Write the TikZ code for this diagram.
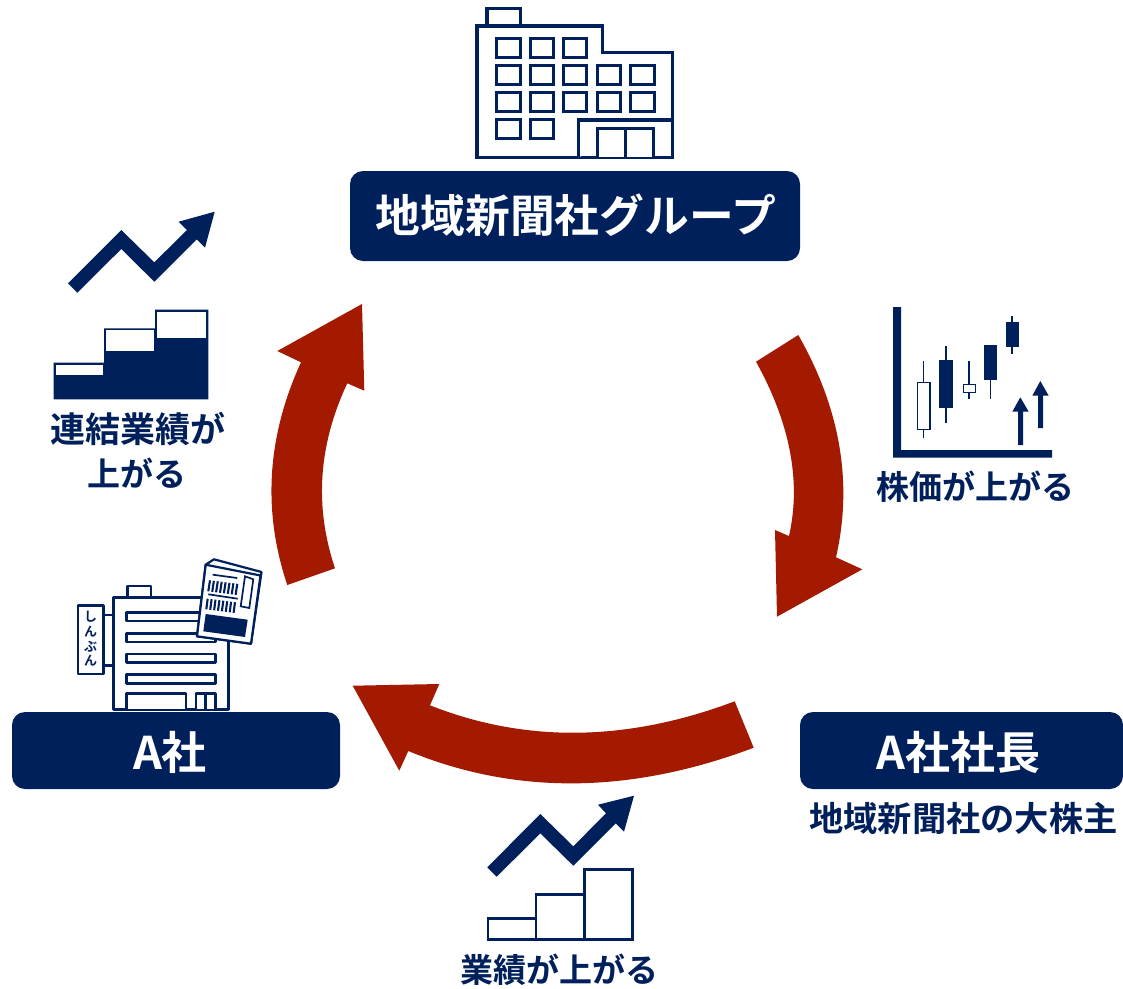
\documentclass[tikz,border=0pt]{standalone}
\usepackage{fontspec}
\setmainfont{Noto Sans CJK JP}[BoldFont={Noto Sans CJK JP Bold}]
\definecolor{navy}{HTML}{00205B}
\definecolor{redarrow}{HTML}{A31A00}
\tikzset{
  titlebox/.style={fill=navy,draw=none,rounded corners=13pt},
  titletext/.style={text=white,font=\bfseries\fontsize{#1}{#1}\selectfont,inner sep=0pt},
  labeltext/.style={text=navy,font=\bfseries\fontsize{#1}{#1}\selectfont,inner sep=0pt},
  signtext/.style={text=navy,font=\bfseries\fontsize{13}{13}\selectfont,inner sep=0pt},
  cycle arrow/.style={fill=redarrow,draw=none},
  solid navy/.style={fill=navy,draw=none},
  window/.style={draw=navy,line width=3pt,fill=white},
  bldg/.style={draw=navy,line width=3.3pt,fill=white,line join=miter},
  thin bldg/.style={draw=navy,line width=2.6pt,fill=white,line join=round},
  stripe/.style={draw=navy,line width=2.1pt},
  bar/.style={draw=navy,line width=2.7pt,fill=white},
  wick/.style={draw=navy,line width=1.3pt},
}
\begin{document}
\begin{tikzpicture}[x=1pt,y=-1pt]
\useasboundingbox (0,0) rectangle (1123,988);
\fill[white] (0,0) rectangle (1123,988);

% cycle arrows
\fill[cycle arrow] (734.7,701.3) .. controls (627.3,741.8) and (525.8,743.2) .. (430,705.3)
  -- (439.3,684) -- (352.7,685.7) -- (399.3,770.7) -- (408.3,751)
  .. controls (515.4,795.2) and (630.6,794.1) .. (753.7,747.7) -- cycle;
\fill[cycle arrow] (756,361.7) .. controls (790.3,423.6) and (801.3,481.7) .. (789,536)
  -- (775,530) -- (777,616.7) -- (862.3,569.3) -- (836,557.3)
  .. controls (853,483) and (840.4,408.9) .. (798.3,335) -- cycle;
\fill[cycle arrow] (335,568.3) .. controls (314.2,506.6) and (318.3,445) .. (347.3,383.3)
  -- (364.3,390.7) -- (362,304) -- (277.3,351) -- (301,362.3)
  .. controls (266.9,436.5) and (262.3,510.8) .. (287.3,585) -- cycle;

% title boxes
\fill[titlebox] (350,171) rectangle (800,261);
\fill[titlebox] (12,712) rectangle (340,789);
\fill[titlebox] (800,712) rectangle (1123,789);
\node[titletext=44.8] (group) at (576,215) {地域新聞社グループ};
\node[titletext=45] (asha) at (170,752) {A社};
\node[titletext=45] (president) at (958.5,752) {A社社長};

% labels
\node[labeltext=34.3] (holder) at (963.5,818) {地域新聞社の大株主};
\node[labeltext=33] (stock) at (975,487) {株価が上がる};
\node[labeltext=33] (sales) at (559,970) {業績が上がる};
\node[labeltext=35] (cons1) at (137.5,429) {連結業績が};
\node[labeltext=33] (cons2) at (137,473) {上がる};

% head office building
\draw[bldg] (487,26) -- (487,8.3) -- (520.7,8.3) -- (520.7,26);
\draw[bldg] (477,26) -- (602.3,26) -- (602.3,52.7) -- (672.7,52.7) -- (672.7,157.3) -- (477,157.3) -- cycle;
\foreach \wx/\wy in {496.7/38.7,530/38.7,563.3/38.7,
  496.7/65.7,530/65.7,563.3/65.7,597.3/65.7,630.7/65.7,
  496.7/92.7,530/92.7,563.3/92.7,597.3/92.7,630.7/92.7,
  496.7/119.3,530/119.3}
  \draw[window] (\wx,\wy) rectangle ++(23.3,18.7);
\draw[bldg] (578.3,157.3) -- (578.3,120) -- (672.7,120);
\draw[bldg] (597.3,157.3) -- (597.3,128.7) -- (653.3,128.7) -- (653.3,157.3);
\draw[bldg] (625.7,128.7) -- (625.7,157.3);

% stair chart with filled bars
\fill[solid navy] (53.7,362.7) -- (104,362.7) -- (104,328.3) -- (155,328.3) -- (155,309.7) -- (208.3,309.7) -- (208.3,399.3) -- (53.7,399.3) -- cycle;
\fill[white] (56.3,365.3) rectangle (103.3,374.7);
\fill[white] (106,330.3) rectangle (154.3,350.7);
\fill[white] (157,312.3) rectangle (206,337.7);
\fill[solid navy] (214.7,211.7) -- (178.7,221.7) -- (187,230) -- (154.3,262.3) -- (121.3,230) -- (68,283.3) -- (77.3,292.7) -- (121.3,249) -- (154.3,281.7) -- (196.7,239.3) -- (205,247.7) -- cycle;

% stair chart with empty bars
\draw[bar] (488,918.3) rectangle (536,939.7);
\draw[bar] (536,894.7) rectangle (584.3,939.7);
\draw[bar] (584.3,869.3) rectangle (632.3,939.7);
\fill[solid navy] (634,795.7) -- (598,804.7) -- (606,813.3) -- (573.3,846.3) -- (540.3,814) -- (487.3,867.3) -- (496.7,876.7) -- (540.3,833.3) -- (573.3,865.7) -- (615.7,823.3) -- (624,831.7) -- cycle;

% candlestick chart
\fill[solid navy] (893,307) -- (901,307) -- (901,450) -- (1052,450) -- (1052,457.7) -- (893,457.7) -- cycle;
\draw[wick] (923.7,361) -- (923.7,437.7);
\draw[navy,line width=1.1pt,fill=white] (917.7,382.3) rectangle (930,429.3);
\draw[wick] (946,346) -- (946,422.7);
\fill[solid navy] (939.3,360.3) rectangle (952.7,408.3);
\draw[wick] (969,361) -- (969,399.3);
\draw[navy,line width=1.1pt,fill=white] (963.3,384.3) rectangle (975.7,392.7);
\draw[wick] (990.7,345) -- (990.7,399.3);
\fill[solid navy] (984,345.3) rectangle (997.3,380);
\draw[wick] (1012,316) -- (1012,354.3);
\fill[solid navy] (1005.7,322) rectangle (1018.7,346.7);
\fill[solid navy] (1020.3,397.3) -- (1028.7,411.7) -- (1023,411.7) -- (1023,445) -- (1018,445) -- (1018,411.7) -- (1012.3,411.7) -- cycle;
\fill[solid navy] (1040.3,381) -- (1048.7,395.7) -- (1043,395.7) -- (1043,428) -- (1038,428) -- (1038,395.7) -- (1032.3,395.7) -- cycle;

% newspaper company building
\draw[thin bldg] (127.7,597.7) -- (127.7,586) -- (151,586) -- (151,597.7);
\draw[thin bldg] (113.7,597.7) rectangle (228.3,709.3);
\foreach \by in {612.3,633.3,654,674.7}
  \draw[thin bldg] (126.7,\by) rectangle (215.7,\by+8.7);
\draw[thin bldg] (126.7,709.3) -- (126.7,693.7) -- (186,693.7) -- (186,709.3);
\draw[thin bldg] (196,709.3) -- (196,693.7) -- (215.3,693.7) -- (215.3,709.3);
\draw[thin bldg] (205.7,693.7) -- (205.7,709.3);
% hanging sign
\draw[thin bldg] (103.7,615) -- (113.7,615);
\draw[thin bldg] (103.7,665.7) -- (113.7,665.7);
\draw[thin bldg] (78,605.3) rectangle (103.7,674);
\node[signtext] (sign1) at (90.5,617) {し};
\node[signtext] (sign2) at (90.5,632) {ん};
\node[signtext] (sign3) at (90.5,647) {ぶ};
\node[signtext] (sign4) at (90.5,661) {ん};

% newspaper
\draw[thin bldg,line width=2.2pt] (214,559.3) -- (261.5,572) -- (251,643.7) -- (197,636.3) -- (205.7,564.7) -- cycle;
\draw[thin bldg,line width=2.2pt] (205.7,564.7) -- (260.5,575.5) -- (251,643.7) -- (197,636.3) -- cycle;
\draw[stripe,line width=1.7pt] (212.7,574.7) -- (237.3,578);
\draw[stripe,line width=1.7pt] (208.3,594.3) -- (237.7,598.7);
\draw[stripe,line width=1.7pt,fill=white] (245,576.3) -- (253.3,579.3) -- (249.3,608) -- (240.7,606.3) -- cycle;
\foreach \i in {0,...,7} {
  \draw[stripe] ({210+\i*3.9},{580.3+\i*0.5}) -- ({208.3+\i*3.9},{591.3+\i*0.5});
  \draw[stripe] ({207.7+\i*3.9},{598.7+\i*0.5}) -- ({206.3+\i*3.9},{609.3+\i*0.5});
}
\fill[solid navy] (205.7,614) -- (247.7,619.7) -- (245,637) -- (203.3,631.3) -- cycle;
\end{tikzpicture}
\end{document}
